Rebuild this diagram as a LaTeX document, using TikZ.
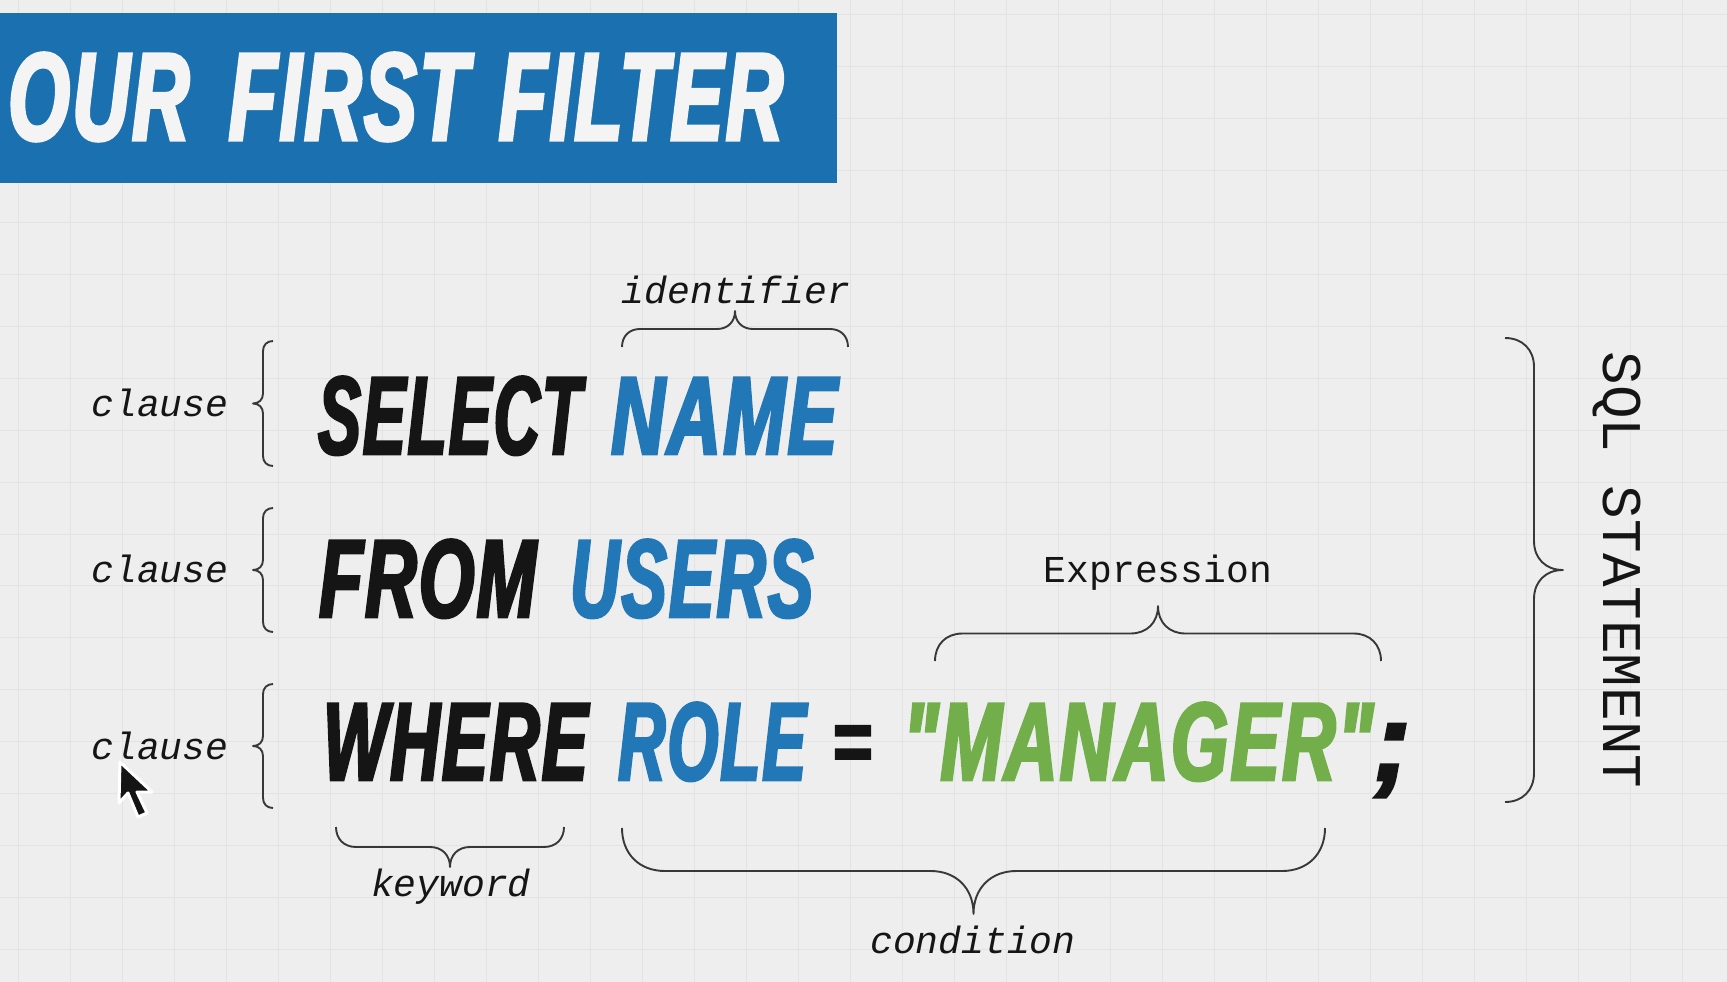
\documentclass[tikz,border=0pt]{standalone}
\usepackage{fontspec}
\usetikzlibrary{decorations.pathreplacing}
\setmonofont{Liberation Mono}
\newfontfamily\headfont[FakeStretch=0.6,FakeBold=2.5,LetterSpace=2]{Liberation Sans}
\definecolor{paper}{HTML}{EEEEEE}
\definecolor{gridline}{HTML}{E3E3E3}
\definecolor{banner}{HTML}{1B70B0}
\definecolor{titletext}{HTML}{F4F4F4}
\definecolor{sqlblue}{HTML}{2277B6}
\definecolor{sqlgreen}{HTML}{72AE4A}
\definecolor{ink}{HTML}{151515}
% a brace whose corners are half as long as the stock one
\pgfdeclaredecoration{softbrace}{run}{
  \state{run}[width=+\pgfdecoratedremainingdistance,next state=final]{
    \def\amp{\pgfdecorationsegmentamplitude}
    \pgfpathmoveto{\pgfpointorigin}
    \pgfpathcurveto{\pgfqpoint{0pt}{.3\amp}}{\pgfqpoint{.2\amp}{.5\amp}}{\pgfqpoint{.5\amp}{.5\amp}}
    \pgftransformxshift{+.5\pgfdecoratedremainingdistance}
    \pgfpathlineto{\pgfqpoint{-.5\amp}{.5\amp}}
    \pgfpathcurveto{\pgfqpoint{-.2\amp}{.5\amp}}{\pgfqpoint{0pt}{.7\amp}}{\pgfqpoint{0pt}{\amp}}
    \pgfpathcurveto{\pgfqpoint{0pt}{.7\amp}}{\pgfqpoint{.2\amp}{.5\amp}}{\pgfqpoint{.5\amp}{.5\amp}}
    \pgftransformxshift{+.5\pgfdecoratedremainingdistance}
    \pgfpathlineto{\pgfqpoint{-.5\amp}{.5\amp}}
    \pgfpathcurveto{\pgfqpoint{-.2\amp}{.5\amp}}{\pgfqpoint{0pt}{.3\amp}}{\pgfpointorigin}
  }
  \state{final}{\pgfpathmoveto{\pgfpointdecoratedpathlast}}
}
\begin{document}
\begin{tikzpicture}[x=1pt, y=-1pt,
    word/.style={anchor=base west, inner sep=0pt, transform shape, font=\headfont\bfseries\itshape\fontsize{111}{111}\selectfont},
    note/.style={inner sep=0pt, text=ink, font=\ttfamily\itshape\fontsize{38}{38}\selectfont},
    curly/.style={draw=ink!85, line width=1.9pt, line join=round, decorate, decoration={softbrace, amplitude=#1}}]
    \useasboundingbox (0,0) rectangle (1727,982);
    \fill[paper] (0,0) rectangle (1727,982);
    \foreach \gx in {0,...,32} \draw[gridline, line width=1pt] (18+52*\gx,0) -- (18+52*\gx,982);
    \foreach \gy in {0,...,18} \draw[gridline, line width=1pt] (0,15+51.9*\gy) -- (1727,15+51.9*\gy);

    \fill[banner] (0,13) rectangle (837,183);
    \node[word, text=titletext, xscale=1.055, font=\headfont\bfseries\itshape\fontsize{125}{125}\selectfont] (title) at (8,140) {OUR\hspace{14pt} FIRST\hspace{6pt} FILTER};

    \node[word, text=ink, xscale=.96] (select) at (318,454) {SELECT};
    \node[word, text=sqlblue, xscale=1.115] (name) at (611,454) {NAME};
    \node[word, text=ink, xscale=1.07] (from) at (319,617) {FROM};
    \node[word, text=sqlblue, xscale=1.02] (users) at (570,617) {USERS};
    \node[word, text=ink, xscale=1.03] (where) at (323,780) {WHERE};
    \node[word, text=sqlblue, xscale=.98] (role) at (618,780) {ROLE};
    \node[word, text=ink, yscale=.78] (equals) at (832,771) {=};
    \node[word, text=sqlgreen, xscale=1.105] (manager) at (903,780) {"MANAGER"};
    \node[word, text=ink, xscale=1.6] (semi) at (1374,780) {;};

    \node[note] (clauseA) at (160,403) {clause};
    \node[note] (clauseB) at (160,569) {clause};
    \node[note] (clauseC) at (160,746) {clause};
    \node[note] (identifier) at (736,290) {identifier};
    \node[note] (keyword) at (451,887) {keyword};
    \node[note] (condition) at (973,940) {condition};
    \node[note, font=\ttfamily\fontsize{38}{38}\selectfont] (expression) at (1158,573) {Expression};
    \node[note, rotate=-90, font=\ttfamily\fontsize{56}{56}\selectfont] (statement) at (1617,570) {SQL STATEMENT};

    \coordinate (clauseAtop) at (273,341);
    \coordinate (clauseAbot) at (273,466);
    \coordinate (clauseBtop) at (273,508);
    \coordinate (clauseBbot) at (273,632);
    \coordinate (clauseCtop) at (273,684);
    \coordinate (clauseCbot) at (273,808);
    \coordinate (identL) at (622,347);
    \coordinate (identR) at (848,347);
    \coordinate (exprL) at (935,661);
    \coordinate (exprR) at (1381,661);
    \coordinate (keyL) at (336,827);
    \coordinate (keyR) at (564,827);
    \coordinate (condL) at (622,828);
    \coordinate (condR) at (1325,828);
    \coordinate (stmtT) at (1505,338);
    \coordinate (stmtB) at (1505,802);

    \draw[curly=20pt] (clauseAbot) -- (clauseAtop);
    \draw[curly=20pt] (clauseBbot) -- (clauseBtop);
    \draw[curly=20pt] (clauseCbot) -- (clauseCtop);
    \draw[curly=36pt] (identL) -- (identR);
    \draw[curly=55pt] (exprL) -- (exprR);
    \draw[curly=40pt] (keyR) -- (keyL);
    \draw[curly=86pt] (condR) -- (condL);
    \draw[curly=58pt] (stmtT) -- (stmtB);

    % pointer
    \fill[ink, draw=white, line width=3pt, line join=round] (120,762) -- (119,803) -- (128,793) -- (138,817)
        -- (147,813) -- (137,792) -- (152,792) -- cycle;
\end{tikzpicture}
\end{document}
